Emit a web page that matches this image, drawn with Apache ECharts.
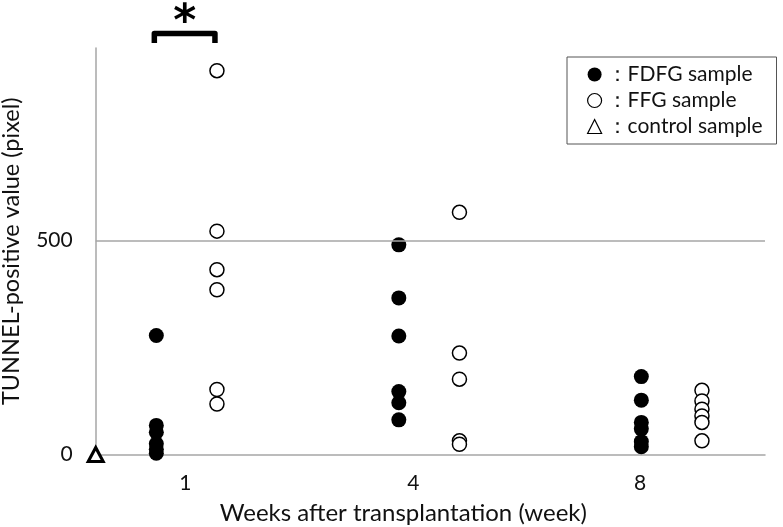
<!DOCTYPE html>
<html>
<head>
<meta charset="utf-8">
<script src="https://cdn.jsdelivr.net/npm/echarts@6/dist/echarts.min.js"></script>
<style>
  html, body { margin: 0; padding: 0; background: #fff; }
  #main { width: 783px; height: 527px; }
</style>
</head>
<body>
<div id="main"></div>
<script>
// 横轴标签及位置（组位置）
let week_labels = ["1", "4", "8"];
let week_label_pos = [0.37, 1.31, 2.245];
let fdfg_x = [0.25, 1.25, 2.25];
let ffg_x = [0.5, 1.5, 2.5];
// 各周的数值
let fdfg_vals = [
	[278, 68, 52, 25, 12, 3],
	[490, 366, 277, 147, 121, 81],
	[182, 127, 75, 60, 30, 18],
];
let ffg_vals = [
	[897, 522, 432, 385, 152, 118],
	[566, 237, 176, 32, 24],
	[150, 125, 106, 90, 75, 32],
];
let control_vals = [[0, 0]];
let y_labels = [0, 500];

let font = "Lato, 'Noto Sans', sans-serif";
let axis_gray = "#a6a6a6";

function toPoints(xs, vals) {
	let pts = [];
	xs.forEach(function (x, i) {
		vals[i].forEach(function (v) {
			pts.push([x, v]);
		});
	});
	return pts;
}

let chart = echarts.init(document.getElementById("main"));
let option = {
	animation: false,
	textStyle: { fontFamily: font },
	grid: {
		left: 95.7,
		right: 18,
		top: 48,
		bottom: 72.5,
		outerBoundsMode: "none",
		containLabel: false,
	},
	legend: {
		orient: "vertical",
		left: 567,
		top: 57,
		padding: [7, 14, 7, 20],
		itemGap: 5,
		itemWidth: 14,
		itemHeight: 14,
		borderColor: "#555",
		borderWidth: 1,
		textStyle: { fontSize: 21, color: "#111", fontFamily: font },
		formatter: function (name) {
			return "：" + name;
		},
		data: [
			{ name: "FDFG sample" },
			{ name: "FFG sample", itemStyle: { borderWidth: 1.2 } },
			{ name: "control sample", itemStyle: { borderWidth: 1.2 } },
		],
	},
	xAxis: {
		type: "value",
		min: 0,
		max: 2.76,
		name: "Weeks after transplantation (week)",
		nameLocation: "middle",
		nameGap: 47,
		nameTextStyle: {
			fontSize: 24,
			color: "#111",
			padding: [0, 54, 0, 0],
		},
		axisLine: {
			show: true,
			onZero: true,
			lineStyle: { color: axis_gray, width: 1.5 },
		},
		axisTick: { show: false },
		splitLine: { show: false },
		axisLabel: {
			customValues: week_label_pos,
			fontSize: 21,
			color: "#111",
			margin: 18,
			formatter: function (v) {
				let idx = 0;
				week_label_pos.forEach(function (p, i) {
					if (Math.abs(p - v) < Math.abs(week_label_pos[idx] - v)) idx = i;
				});
				return week_labels[idx];
			},
		},
	},
	yAxis: {
		type: "value",
		min: 0,
		max: 950,
		name: "TUNNEL-positive value (pixel)",
		nameLocation: "middle",
		nameGap: 72,
		nameTextStyle: { fontSize: 23.5, color: "#111" },
		axisLine: {
			show: true,
			lineStyle: { color: axis_gray, width: 1.5 },
		},
		axisTick: { show: false },
		splitLine: { show: false },
		axisLabel: {
			customValues: y_labels,
			fontSize: 21,
			color: "#111",
			margin: 23,
		},
	},
	series: [
		{
			// 500 参考线
			type: "scatter",
			data: [],
			silent: true,
			markLine: {
				silent: true,
				symbol: "none",
				label: { show: false },
				lineStyle: { color: axis_gray, width: 1.5, type: "solid" },
				data: [{ yAxis: 500 }],
			},
		},
		{
			name: "FDFG sample",
			type: "scatter",
			symbol: "circle",
			symbolSize: 15,
			itemStyle: { color: "#000", opacity: 1 },
			data: toPoints(fdfg_x, fdfg_vals),
			z: 3,
		},
		{
			name: "FFG sample",
			type: "scatter",
			symbol: "circle",
			symbolSize: 14,
			itemStyle: { color: "#fff", borderColor: "#000", borderWidth: 1.5, opacity: 1 },
			data: toPoints(ffg_x, ffg_vals),
			z: 3,
		},
		{
			name: "control sample",
			type: "scatter",
			symbol: "triangle",
			symbolSize: [15, 14],
			clip: false,
			itemStyle: { color: "#fff", borderColor: "#000", borderWidth: 3, opacity: 1 },
			data: control_vals,
			z: 4,
		},
	],
};
chart.setOption(option);

// 显著性标记（括号 + 星号）
let left_pt = chart.convertToPixel({ gridIndex: 0 }, [fdfg_x[0], 0]);
let right_pt = chart.convertToPixel({ gridIndex: 0 }, [ffg_x[0], 0]);
let bx1 = left_pt[0] - 2;
let bx2 = right_pt[0] - 2;
chart.setOption({
	graphic: [
		{
			type: "polyline",
			shape: {
				points: [
					[bx1, 43],
					[bx1, 33.5],
					[bx2, 33.5],
					[bx2, 43],
				],
			},
			style: { stroke: "#000", lineWidth: 5.5, fill: null, lineJoin: "round" },
		},
		{
			type: "text",
			x: (bx1 + bx2) / 2,
			y: 2,
			style: {
				text: "*",
				font: "bold 44px 'DejaVu Sans', sans-serif",
				fill: "#000",
				textAlign: "center",
				textVerticalAlign: "top",
			},
		},
	],
});
</script>
</body>
</html>
